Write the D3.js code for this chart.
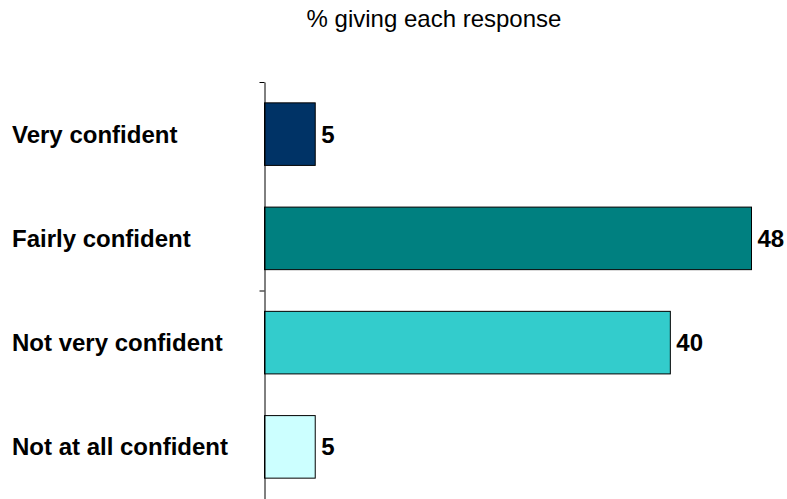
<!DOCTYPE html>
<html>
<head>
<meta charset="utf-8">
<script src="https://cdn.jsdelivr.net/npm/d3@7"></script>
<style>
  html, body { margin: 0; padding: 0; background: #fff; }
  svg { display: block; }
  text { font-family: "Liberation Sans", Arial, sans-serif; fill: #000; }
</style>
</head>
<body>
<svg id="chart" width="787" height="499"></svg>
<script>
// Survey responses: share of respondents giving each answer
const categories = ["Very confident", "Fairly confident", "Not very confident", "Not at all confident"];
const values = [5, 48, 40, 5];
const barColors = ["#003366", "#008080", "#33CCCC", "#CCFFFF"];
const title = "% giving each response";

const svg = d3.select("#chart");
const plotLeft = 264.5, plotTop = 82, plotBottom = 499;

const x = d3.scaleLinear().domain([0, 48]).range([plotLeft, plotLeft + 487]);
const y = d3.scaleBand().domain(categories).range([plotTop, plotBottom])
  .paddingInner(0.4).paddingOuter(0.2);

// Title
svg.append("text")
  .attr("x", 434).attr("y", 27)
  .attr("text-anchor", "middle")
  .style("font-size", "24px")
  .text(title);

// Bars
svg.selectAll("rect.bar").data(categories).join("rect")
  .attr("class", "bar")
  .attr("x", x(0))
  .attr("y", d => y(d))
  .attr("width", (d, i) => x(values[i]) - x(0))
  .attr("height", y.bandwidth())
  .attr("fill", (d, i) => barColors[i])
  .attr("stroke", "#000")
  .attr("stroke-width", 1);

// Value labels
svg.selectAll("text.val").data(categories).join("text")
  .attr("class", "val")
  .attr("x", (d, i) => x(values[i]) + 6)
  .attr("y", d => y(d) + y.bandwidth() / 2)
  .attr("dy", "0.35em")
  .style("font-size", "24px")
  .style("font-weight", "bold")
  .text((d, i) => values[i]);

// Category labels
svg.selectAll("text.cat").data(categories).join("text")
  .attr("class", "cat")
  .attr("x", 12)
  .attr("y", d => y(d) + y.bandwidth() / 2)
  .attr("dy", "0.35em")
  .style("font-size", "24px")
  .style("font-weight", "bold")
  .text(d => d);

// Vertical axis with a tick every second category boundary
const yPos = d3.scaleLinear().domain([0, categories.length]).range([plotTop, plotBottom]);
const axis = svg.append("g")
  .attr("transform", `translate(${plotLeft},0)`)
  .call(d3.axisLeft(yPos).tickValues([0, 2, 4]).tickSize(5).tickSizeOuter(0).tickFormat(""));
axis.select(".domain").attr("stroke", "#000");
axis.selectAll(".tick line").attr("stroke", "#000");
</script>
</body>
</html>
